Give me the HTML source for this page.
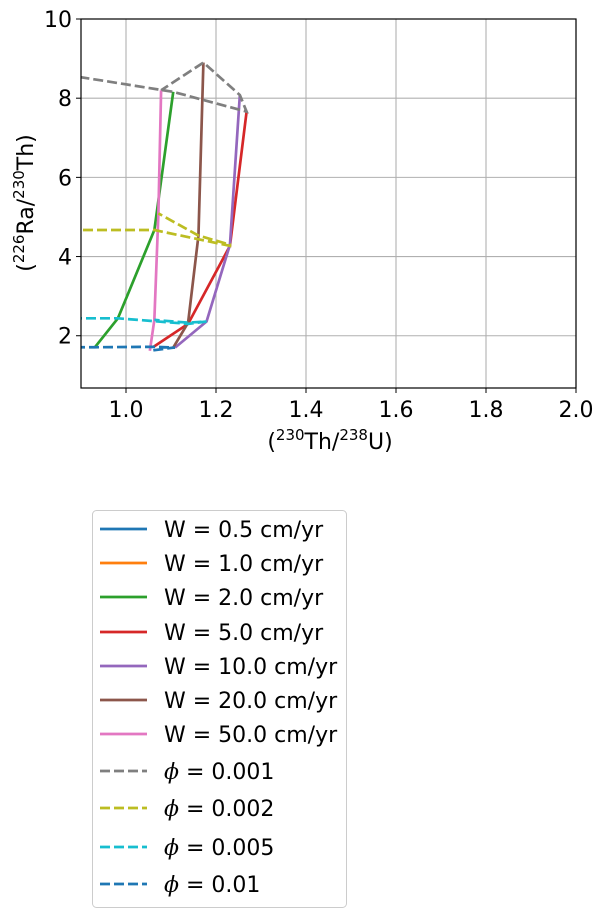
<!DOCTYPE html>
<html><head><meta charset="utf-8"><style>
body{margin:0;background:#fff;}
svg text{font-family:"DejaVu Sans","Liberation Sans",sans-serif;fill:#000;}
</style></head><body>
<svg id="chart" width="604" height="918" xmlns="http://www.w3.org/2000/svg">
<defs><clipPath id="clip"><rect x="81" y="19" width="495" height="369"/></clipPath></defs>
<g id="grid"></g>
<g id="series" clip-path="url(#clip)"></g>
<rect x="81" y="19" width="495" height="369" fill="none" stroke="#000" stroke-width="1.2"/>
<g id="ticks"></g>
<text x="330" y="449" font-size="22" text-anchor="middle">(<tspan font-size="15" dy="-9">230</tspan><tspan dy="9">Th/</tspan><tspan font-size="15" dy="-9">238</tspan><tspan dy="9">U)</tspan></text>
<text transform="translate(33,203) rotate(-90)" font-size="22" text-anchor="middle">(<tspan font-size="15" dy="-9">226</tspan><tspan dy="9">Ra/</tspan><tspan font-size="15" dy="-9">230</tspan><tspan dy="9">Th)</tspan></text>
<rect x="92.5" y="510.5" width="254" height="397" rx="4" fill="#fff" stroke="#ccc"/>
<g id="legend"></g>
</svg>
<script>
const xTicks=[1.0,1.2,1.4,1.6,1.8,2.0];
const yTicks=[2,4,6,8,10];
const wLabels=["W = 0.5 cm/yr","W = 1.0 cm/yr","W = 2.0 cm/yr","W = 5.0 cm/yr","W = 10.0 cm/yr","W = 20.0 cm/yr","W = 50.0 cm/yr"];
const wColors=["#1f77b4","#ff7f0e","#2ca02c","#d62728","#9467bd","#8c564b","#e377c2"];
const phiLabels=["0.001","0.002","0.005","0.01"];
const phiColors=["#7f7f7f","#bcbd22","#17becf","#1f77b4"];
// each W series: points for phi = 0.01, 0.005, 0.002, 0.001
const wX=[[0.7,0.6,0.5,0.4],[0.85,0.8,0.75,0.85],[0.931,0.982,1.063,1.105],[1.061,1.138,1.231,1.268],[1.109,1.179,1.231,1.253],[1.105,1.138,1.161,1.172],[1.053,1.063,1.072,1.078]];
const wY=[[1.71,2.44,4.67,8.9],[1.71,2.44,4.67,8.62],[1.71,2.44,4.67,8.16],[1.72,2.30,4.27,7.66],[1.70,2.36,4.30,8.08],[1.70,2.33,4.53,8.9],[1.62,2.40,5.09,8.2]];
const phiIdx=[3,2,1,0];
const X0=81,X1=576,Y0=388,Y1=19,xmin=0.9,xmax=2.0,ymin=0.68,ymax=10;
const sx=v=>X0+(v-xmin)/(xmax-xmin)*(X1-X0);
const sy=v=>Y0-(v-ymin)/(ymax-ymin)*(Y0-Y1);
const NS="http://www.w3.org/2000/svg";
function mk(tag,attrs,parent){const e=document.createElementNS(NS,tag);for(const k in attrs)e.setAttribute(k,attrs[k]);parent.appendChild(e);return e;}
const grid=document.getElementById('grid'),ticks=document.getElementById('ticks'),ser=document.getElementById('series'),leg=document.getElementById('legend');
xTicks.forEach(t=>{const x=sx(t);
 const g=mk('line',{x1:x,x2:x,y1:Y1,y2:Y0,stroke:'#b0b0b0','stroke-width':1.1},grid);
 
 
 const tk=mk('line',{x1:x,x2:x,y1:Y0,y2:Y0+5,stroke:'#000'},ticks);
 
 
 const tx=mk('text',{x:x,y:Y0+29,'font-size':22,'text-anchor':'middle'},ticks);tx.textContent=t.toFixed(1);
 
 });
yTicks.forEach(t=>{const y=sy(t);
 const g=mk('line',{x1:X0,x2:X1,y1:y,y2:y,stroke:'#b0b0b0','stroke-width':1.1},grid);
 
 
 const tk=mk('line',{x1:X0-5,x2:X0,y1:y,y2:y,stroke:'#000'},ticks);
 
 
 const tx=mk('text',{x:X0-9,y:y+8,'font-size':22,'text-anchor':'end'},ticks);tx.textContent=t;
 
 });
wX.forEach((xs,i)=>{const pts=xs.map((x,j)=>sx(x)+','+sy(wY[i][j])).join(' ');
 const p=mk('polyline',{points:pts,fill:'none',stroke:wColors[i],'stroke-width':2.7},ser);
 
 });
phiIdx.forEach((j,k)=>{const pts=wX.map((xs,i)=>sx(xs[j])+','+sy(wY[i][j])).join(' ');
 const p=mk('polyline',{points:pts,fill:'none',stroke:phiColors[k],'stroke-width':2.7,'stroke-dasharray':'10,4'},ser);
 
 });
const legY=[529,563,597,632,666,700,734,771,808,847,884];
wLabels.forEach((l,i)=>{const y=legY[i];
 const ln=mk('line',{x1:100,x2:147,y1:y,y2:y,stroke:wColors[i],'stroke-width':2.7},leg);
 
 
 const t=mk('text',{x:164,y:y+8,'font-size':22},leg);t.textContent=l;
 
 });
phiLabels.forEach((l,k)=>{const y=legY[7+k];
 const ln=mk('line',{x1:100,x2:147,y1:y,y2:y,stroke:phiColors[k],'stroke-width':2.7,'stroke-dasharray':'10,4'},leg);
 
 
 const t=mk('text',{x:164,y:y+8,'font-size':22},leg);
 t.innerHTML='<tspan font-style="italic" font-family="DejaVu Serif,serif">ϕ</tspan> = '+l;
 
 });
</script>
</body></html>
